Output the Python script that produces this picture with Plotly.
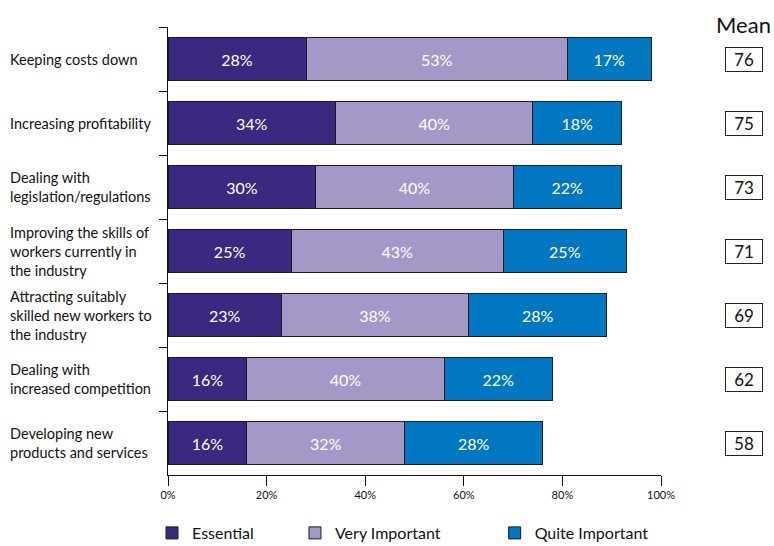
import plotly.graph_objects as go

categories = [
    "Keeping costs down",
    "Increasing profitability",
    "Dealing with<br>legislation/regulations",
    "Improving the skills of<br>workers currently in<br>the industry",
    "Attracting suitably<br>skilled new workers to<br>the industry",
    "Dealing with<br>increased competition",
    "Developing new<br>products and services",
]
essential = [28, 34, 30, 25, 23, 16, 16]
very_important = [53, 40, 40, 43, 38, 40, 32]
quite_important = [17, 18, 22, 25, 28, 22, 28]
means = [76, 75, 73, 71, 69, 62, 58]
x_ticks = [0, 20, 40, 60, 80, 100]

FONT = "Lato"
series = [
    ("Essential", essential, "#3B2880", "legend", 0.1964),
    ("Very Important", very_important, "#A498C8", "legend2", 0.3811),
    ("Quite Important", quite_important, "#0077C0", "legend3", 0.6391),
]

fig = go.Figure()
for name, vals, col, leg, _ in series:
    fig.add_trace(go.Bar(
        y=categories, x=vals, name=name, orientation="h",
        marker=dict(color=col, line=dict(color="#1a1a1a", width=1)),
        text=[f"{v}%" for v in vals], textposition="inside",
        insidetextanchor="middle",
        textfont=dict(color="white", size=16, family=FONT),
        width=0.66, hoverinfo="skip", legend=leg,
    ))

annotations = []
for c in categories:
    annotations.append(dict(
        xref="paper", yref="y", x=-0.3245, y=c, text=c, showarrow=False,
        xanchor="left", yanchor="middle", align="left",
        font=dict(size=14.5, family=FONT, color="#111"),
    ))
for c, m in zip(categories, means):
    annotations.append(dict(
        xref="paper", yref="y", x=1.1684, y=c, text=str(m), showarrow=False,
        xanchor="center", yanchor="middle", width=36, height=23,
        bordercolor="#222", borderwidth=1, borderpad=0, bgcolor="white",
        font=dict(size=17, family=FONT, color="#111"),
    ))
annotations.append(dict(
    xref="paper", yref="paper", x=1.1664, y=1.005,
    xanchor="center", yanchor="middle",
    text="Mean", showarrow=False,
    font=dict(size=22, family=FONT, color="#111"),
))

legend_common = dict(
    orientation="h", xref="container", yref="container",
    xanchor="left", y=0.0238, yanchor="middle",
    font=dict(size=16, family=FONT, color="#111"),
    bgcolor="rgba(0,0,0,0)",
)
legends = {}
for name, vals, col, leg, lx in series:
    legends[leg] = dict(legend_common, x=lx)

fig.update_layout(
    barmode="stack",
    width=774, height=546,
    margin=dict(l=168, r=113, t=27, b=71, autoexpand=False),
    plot_bgcolor="white", paper_bgcolor="white",
    font=dict(family=FONT, color="#111"),
    annotations=annotations,
    showlegend=True,
    xaxis=dict(
        range=[0, 100], tickvals=x_ticks, ticktext=[f"{v}%" for v in x_ticks],
        showgrid=False, zeroline=False, showline=True, linecolor="#111",
        ticks="outside", ticklen=10, tickcolor="#111",
        tickfont=dict(size=11, family=FONT, color="#111"),
        automargin=False,
    ),
    yaxis=dict(
        autorange="reversed", showgrid=False, showline=True, linecolor="#111",
        ticks="outside", ticklen=8, tickcolor="#111", tickson="boundaries",
        showticklabels=False, automargin=False,
    ),
    **legends,
)

fig.write_html("out.html")
